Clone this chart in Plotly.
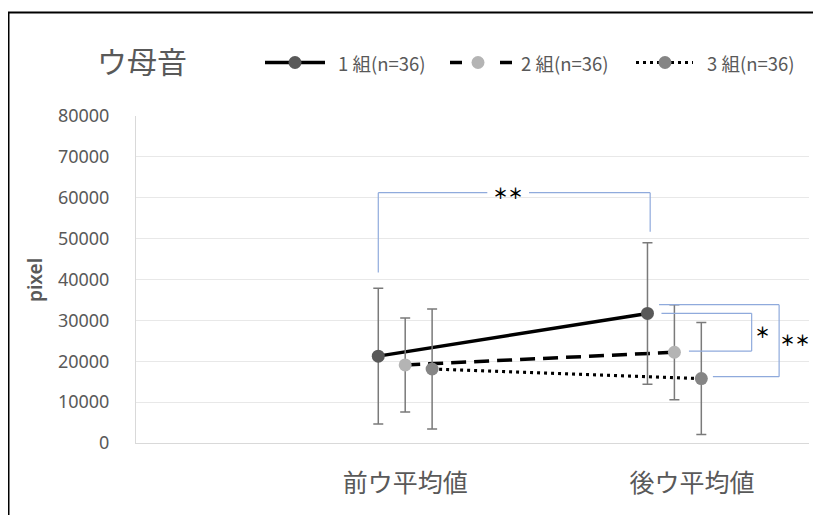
import plotly.graph_objects as go

# ---- data ----
categories = ["前ウ平均値", "後ウ平均値"]
series_names = ["1 組(n=36)", "2 組(n=36)", "3 組(n=36)"]
g1_mean = [21250, 31700]
g1_sd = [16600, 17300]
g2_mean = [19100, 22200]
g2_sd = [11500, 11600]
g3_mean = [18100, 15750]
g3_sd = [14700, 13700]
y_ticks = [0, 10000, 20000, 30000, 40000, 50000, 60000, 70000, 80000]

means = [g1_mean, g2_mean, g3_mean]
sds = [g1_sd, g2_sd, g3_sd]

# ---- styles ----
offsets = [-0.1, 0.0, 0.1]
marker_colors = ["#595959", "#B4B4B4", "#858585"]
dashes = ["solid", "15px,8px", "3px,4px"]
widths = [3.5, 3.5, 3.2]

# page has an 8px body margin; layout measured in page pixels
OFF = 8
W, H = 821 - OFF, 515 - OFF
L_PAGE, T_PAGE, R_PAGE, B_PAGE = 136, 116, 809, 443
L, T = L_PAGE - OFF, T_PAGE - OFF
R = W - (R_PAGE - OFF)
B = H - (B_PAGE - OFF)
PW, PH = R_PAGE - L_PAGE, B_PAGE - T_PAGE


def px(xp):
    return (xp - L_PAGE) / PW


def py(yp):
    return (B_PAGE - yp) / PH


fig = go.Figure()
for i in range(3):
    xs = [k + 1 + offsets[i] for k in range(len(categories))]
    fig.add_trace(go.Scatter(
        x=xs, y=means[i], mode="lines", name=series_names[i],
        line=dict(color="#000000", width=widths[i], dash=dashes[i]),
        showlegend=False, hoverinfo="skip"))
for i in range(3):
    xs = [k + 1 + offsets[i] for k in range(len(categories))]
    fig.add_trace(go.Scatter(
        x=xs, y=means[i], mode="markers", name=series_names[i],
        marker=dict(color=marker_colors[i], size=13),
        error_y=dict(type="data", array=sds[i], visible=True,
                     color="#7A7A7A", thickness=1.5, width=5),
        showlegend=False))

shapes = []
ann = []
blue = "#8FAADC"

# figure border
shapes.append(dict(type="rect", xref="paper", yref="paper",
                   x0=px(8.5), x1=px(840), y0=py(540), y1=py(12.5),
                   line=dict(color="#000000", width=2), layer="below"))


def seg(x0, y0, x1, y1):
    shapes.append(dict(type="line", xref="x", yref="y", x0=x0, y0=y0, x1=x1, y1=y1,
                       line=dict(color=blue, width=1.2)))


star_font = dict(size=15, color="#000000", family="Noto Sans CJK JP", weight="bold")
# top bracket: 1組 pre vs post
seg(0.9, 41700, 0.9, 61250)
seg(0.9, 61250, 1.305, 61250)
seg(1.46, 61250, 1.91, 61250)
seg(1.91, 61250, 1.91, 51700)
ann.append(dict(x=1.382, y=61250, xref="x", yref="y", text="＊＊", showarrow=False,
                font=star_font))
# inner right bracket: 1組 vs 2組 post
seg(1.952, 31730, 2.287, 31730)
seg(2.287, 31730, 2.287, 22500)
seg(2.287, 22500, 2.054, 22500)
ann.append(dict(x=2.329, y=27400, xref="x", yref="y", text="＊", showarrow=False,
                font=star_font))
# outer right bracket: 1組 vs 3組 post
seg(1.943, 33830, 2.389, 33830)
seg(2.389, 33830, 2.389, 16220)
seg(2.389, 16220, 2.143, 16220)
ann.append(dict(x=2.449, y=25300, xref="x", yref="y", text="＊＊", showarrow=False,
                font=star_font))

# title
ann.append(dict(x=px(95), y=py(60), xref="paper", yref="paper", text="ウ母音",
                showarrow=False, xanchor="left", yanchor="middle",
                font=dict(size=30, color="#595959", family="Noto Sans CJK JP")))

# y axis title
ann.append(dict(x=px(35), y=py(280), xref="paper", yref="paper", text="pixel",
                showarrow=False, textangle=-90, xanchor="center", yanchor="middle",
                font=dict(size=19, color="#595959", family="Noto Sans", weight=600)))

# custom legend
leg_y = py(62.5)
leg = [
    (265, 325, 295, 336, "solid"),
    (450, 512, 478, 519, "12px,38px"),
    (636, 693, 665, 705, "3px,4px"),
]
for i, (x0, x1, xm, xt, d) in enumerate(leg):
    shapes.append(dict(type="line", xref="paper", yref="paper", x0=px(x0), x1=px(x1),
                       y0=leg_y, y1=leg_y,
                       line=dict(color="#000000", width=widths[i], dash=d)))
    shapes.append(dict(type="circle", xref="paper", yref="paper",
                       xsizemode="pixel", ysizemode="pixel",
                       xanchor=px(xm), yanchor=leg_y, x0=-6.5, x1=6.5, y0=-6.5, y1=6.5,
                       fillcolor=marker_colors[i], line=dict(width=0)))
    ann.append(dict(x=px(xt), y=leg_y, xref="paper", yref="paper", text=series_names[i],
                    showarrow=False, xanchor="left", yanchor="middle",
                    font=dict(size=18.5, color="#595959", family="Noto Sans CJK JP")))

fig.update_layout(
    width=W, height=H,
    margin=dict(l=L, r=R, t=T, b=B, pad=0),
    paper_bgcolor="#FFFFFF", plot_bgcolor="#FFFFFF",
    shapes=shapes, annotations=ann, showlegend=False,
    xaxis=dict(range=[0, 2.5], tickmode="array", tickvals=[1.0, 2.065],
               ticktext=categories, showgrid=False, zeroline=False,
               showline=True, linecolor="#D9D9D9", linewidth=1,
               ticks="outside", ticklen=18, tickcolor="rgba(0,0,0,0)",
               tickfont=dict(size=25, color="#595959", family="Noto Sans CJK JP")),
    yaxis=dict(range=[0, 80000], tickmode="array", tickvals=y_ticks,
               ticktext=[str(v) for v in y_ticks],
               showgrid=True, gridcolor="#E8E8E8", gridwidth=1, zeroline=False,
               showline=True, linecolor="#D9D9D9", linewidth=1,
               ticks="outside", ticklen=22, tickcolor="rgba(0,0,0,0)",
               tickfont=dict(size=18, color="#595959", family="Noto Sans")),
)

fig.write_html("out.html")
